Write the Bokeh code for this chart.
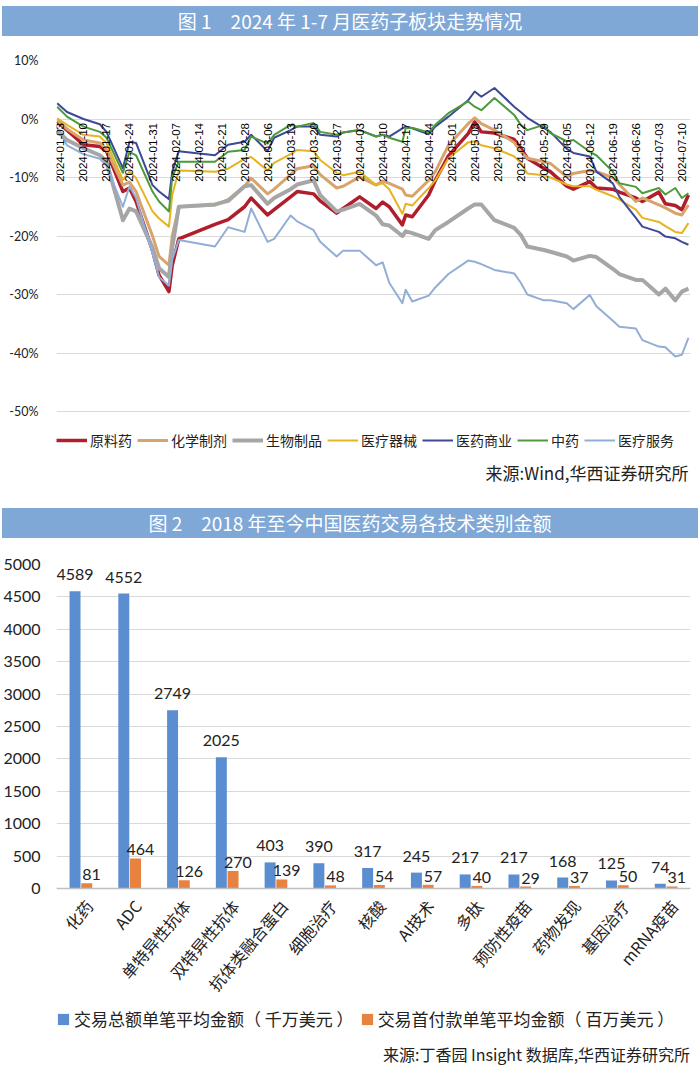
import pandas as pd
from bokeh.plotting import figure
from bokeh.models import (ColumnDataSource, Legend, LegendItem, Label, Div, FixedTicker,
                          Range1d, FactorRange, Span, PrintfTickFormatter)
from bokeh.layouts import column
from bokeh.transform import dodge
from bokeh.core.properties import value
from bokeh.embed import file_html
from bokeh.resources import INLINE

# ---------------- data: figure 1 (cumulative change, %) ----------------
dates = ["2024-01-02", "2024-01-05", "2024-01-10", "2024-01-15", "2024-01-17", "2024-01-22", "2024-01-24", "2024-01-26", "2024-01-31",
         "2024-02-02", "2024-02-05", "2024-02-06", "2024-02-08", "2024-02-19", "2024-02-23", "2024-02-28",
         "2024-03-01", "2024-03-06", "2024-03-08", "2024-03-13", "2024-03-15", "2024-03-20", "2024-03-22", "2024-03-27", "2024-03-29",
         "2024-04-03", "2024-04-08", "2024-04-10", "2024-04-12", "2024-04-16", "2024-04-17", "2024-04-19", "2024-04-24", "2024-04-26", "2024-04-30",
         "2024-05-06", "2024-05-08", "2024-05-10", "2024-05-14", "2024-05-20", "2024-05-22", "2024-05-24", "2024-05-29", "2024-05-31",
         "2024-06-05", "2024-06-07", "2024-06-12", "2024-06-14", "2024-06-19", "2024-06-21", "2024-06-26", "2024-06-28",
         "2024-07-03", "2024-07-05", "2024-07-08", "2024-07-10", "2024-07-12"]

raw_material = [-0.4, -1.9, -4.4, -4.7, -5.5, -12.4, -11.8, -14.1, -22.5,
                -26.7, -29.5, -25.0, -20.5, -18.0, -17.2, -15.0,
                -13.5, -16.4, -15.5, -13.3, -12.4, -12.8, -14.0, -16.1, -15.3,
                -13.3, -15.3, -14.2, -15.0, -18.1, -16.4, -16.7, -13.0, -10.5, -6.3,
                -2.5, -0.5, -2.2, -2.4, -3.5, -5.0, -6.7, -8.4, -9.0,
                -11.5, -12.0, -10.7, -11.8, -12.0, -12.5, -13.5, -14.1,
                -12.5, -14.5, -14.8, -15.5, -13.0]
chem_prep = [-0.2, -1.7, -3.6, -4.1, -5.2, -11.3, -10.8, -12.4, -20.0,
             -23.5, -25.0, -20.0, -15.0, -14.7, -13.8, -11.5,
             -10.1, -12.8, -12.0, -9.5, -8.5, -8.0, -9.5, -11.8, -11.5,
             -9.9, -11.3, -10.6, -11.0, -12.0, -13.0, -13.2, -10.5, -9.0, -4.5,
             -0.8, 0.2, -0.8, -1.9, -4.0, -5.6, -6.7, -7.3, -7.6,
             -9.9, -9.3, -8.8, -9.0, -10.0, -11.2, -14.1, -13.5,
             -14.7, -15.2, -16.1, -16.4, -14.7]
bio_products = [-1.9, -3.6, -5.0, -6.2, -7.3, -17.3, -15.3, -15.8, -22.0,
                -25.5, -27.0, -22.0, -15.0, -14.6, -14.0, -11.5,
                -11.3, -14.5, -13.5, -12.0, -11.2, -10.5, -13.0, -15.8, -15.5,
                -14.5, -16.5, -18.0, -18.2, -20.0, -19.2, -19.5, -20.5, -19.0, -17.6,
                -15.3, -14.6, -14.6, -17.3, -18.6, -19.8, -21.8, -22.4, -22.7,
                -23.5, -24.2, -23.4, -23.6, -25.6, -26.5, -27.5, -27.5,
                -30.0, -29.0, -31.0, -29.5, -29.0]
med_devices = [0.1, -1.0, -2.7, -3.0, -4.1, -10.4, -9.0, -10.1, -15.8,
               -17.0, -18.4, -13.0, -8.8, -9.0, -8.5, -6.8,
               -6.5, -8.8, -7.5, -6.0, -5.3, -5.5, -7.0, -9.2, -9.6,
               -9.0, -11.3, -11.0, -12.0, -16.2, -14.5, -14.8, -11.8, -10.5, -6.7,
               -4.0, -3.8, -4.5, -5.0, -6.4, -7.5, -9.3, -9.6, -10.0,
               -11.2, -11.5, -11.5, -12.1, -13.2, -13.8, -15.5, -16.9,
               -17.6, -18.3, -19.3, -19.5, -17.8]
pharma_commerce = [2.7, 1.2, 0.0, -0.9, -2.2, -8.4, -3.9, -4.1, -11.3,
                   -12.4, -13.7, -9.0, -5.5, -6.2, -4.4, -3.9,
                   -2.7, -5.5, -3.2, -1.9, -1.3, -1.3, -2.7, -3.0, -2.3,
                   -1.9, -3.0, -2.7, -3.0, -1.6, -1.3, -1.6, -2.6, -1.3, 0.4,
                   3.2, 4.7, 3.8, 5.3, 2.1, 1.2, 0.2, -1.5, -2.2,
                   -5.1, -5.8, -6.4, -9.0, -11.0, -13.3, -16.9, -18.4,
                   -19.3, -20.1, -20.4, -21.0, -21.5]
tcm = [2.1, 0.4, -1.3, -2.2, -3.2, -9.2, -5.6, -6.2, -12.4,
       -14.1, -15.8, -10.0, -7.3, -7.3, -5.6, -5.3,
       -3.0, -4.2, -2.7, -1.0, -1.3, -0.7, -2.2, -2.7, -2.3,
       -1.9, -3.0, -2.7, -3.2, -3.9, -1.6, -1.5, -2.3, -1.0, 1.0,
       3.0, 2.1, 1.5, 3.6, 0.7, -1.0, -1.9, -1.0, -2.4,
       -3.8, -3.6, -5.6, -6.2, -9.0, -11.0, -11.6, -12.7,
       -11.8, -12.9, -11.8, -13.5, -12.7]
med_services = [-1.5, -4.5, -6.0, -6.8, -8.0, -15.0, -11.5, -13.5, -23.0,
                -27.0, -28.5, -24.0, -20.7, -21.8, -18.5, -19.3,
                -15.3, -21.0, -20.5, -16.5, -17.5, -19.0, -21.0, -23.5, -22.5,
                -22.5, -25.0, -24.5, -28.0, -31.5, -29.2, -31.2, -30.2, -28.8, -26.5,
                -24.2, -24.4, -24.8, -25.8, -26.4, -28.0, -30.0, -31.0, -31.0,
                -31.5, -32.5, -30.1, -32.0, -34.5, -35.5, -35.8, -37.8,
                -38.9, -39.0, -40.6, -40.3, -37.4]

series_names = ["原料药", "化学制剂", "生物制品", "医疗器械", "医药商业", "中药", "医疗服务"]
series_values = [raw_material, chem_prep, bio_products, med_devices, pharma_commerce, tcm, med_services]

date_tick_labels = ["2024-01-03", "2024-01-10", "2024-01-17", "2024-01-24", "2024-01-31", "2024-02-07", "2024-02-14",
                    "2024-02-21", "2024-02-28", "2024-03-06", "2024-03-13", "2024-03-20", "2024-03-27", "2024-04-03",
                    "2024-04-10", "2024-04-17", "2024-04-24", "2024-05-01", "2024-05-08", "2024-05-15", "2024-05-22",
                    "2024-05-29", "2024-06-05", "2024-06-12", "2024-06-19", "2024-06-26", "2024-07-03", "2024-07-10"]
pct_ticks = [-50, -40, -30, -20, -10, 0, 10]

# ---------------- data: figure 2 ----------------
categories = ["化药", "ADC", "单特异性抗体", "双特异性抗体", "抗体类融合蛋白", "细胞治疗", "核酸",
              "AI技术", "多肽", "预防性疫苗", "药物发现", "基因治疗", "mRNA疫苗"]
deal_total = [4589, 4552, 2749, 2025, 403, 390, 317, 245, 217, 217, 168, 125, 74]
deal_upfront = [81, 464, 126, 270, 139, 48, 54, 57, 40, 29, 37, 50, 31]
amount_ticks = [0, 500, 1000, 1500, 2000, 2500, 3000, 3500, 4000, 4500, 5000]

# ---------------- styling ----------------
W = 700
CJK = "Noto Sans CJK SC"
NUM = "Lato"
BANNER = "#7FA8D7"
line_colors = ["#B01E2C", "#D8A46C", "#A6A6A6", "#E6B323", "#3D4996", "#4C9A3C", "#92AED6"]
line_widths = [3.5, 3, 4, 2, 2, 2, 2]
BLUE = "#5B8DD1"
ORANGE = "#E8823E"
GRID = "#D9D9D9"


def banner(text, h, top, bh):
    html = (f'<div style="margin:{top}px 2px 0 2px;height:{bh}px;line-height:{bh}px;background:{BANNER};'
            f'color:#ffffff;font-family:\'{CJK}\';font-size:19px;text-align:center;width:{W - 4}px;">{text}</div>')
    return Div(text=html, width=W, height=h, styles={"margin": "0", "padding": "0"})


# ================= figure 1 =================
PX_PER_PCT = 5.85
F1_TOP, F1_BOTTOM = 60, 490          # frame extent (page px)
y_hi = 10.0
y_lo = y_hi - (F1_BOTTOM - F1_TOP) / PX_PER_PCT


def pct_at(page_y):
    return y_hi - (page_y - F1_TOP) / PX_PER_PCT


x_lo = pd.Timestamp("2024-01-01 19:15")
x_hi = pd.Timestamp("2024-07-12 15:00")

p1 = figure(width=W, height=458, x_axis_type="datetime", x_axis_location=None,
            x_range=Range1d(x_lo, x_hi), y_range=Range1d(y_lo, y_hi),
            output_backend="svg", toolbar_location=None,
            min_border_left=48, min_border_right=8, min_border_top=18, min_border_bottom=10)
p1.outline_line_color = None
p1.background_fill_color = "white"
p1.yaxis.ticker = FixedTicker(ticks=pct_ticks)
p1.yaxis.formatter = PrintfTickFormatter(format="%d%%")
p1.yaxis.axis_line_color = None
p1.yaxis.major_tick_line_color = None
p1.yaxis.minor_tick_line_color = None
p1.yaxis.major_label_text_font = NUM
p1.yaxis.major_label_text_font_size = "12.5px"
p1.yaxis.major_label_text_color = "#222222"
p1.yaxis.major_label_standoff = 12
p1.ygrid.grid_line_color = GRID
p1.ygrid.grid_line_width = 1.2
for g in p1.xgrid:
    g.visible = False

src1 = ColumnDataSource(dict(date=pd.to_datetime(dates), **{f"s{i}": v for i, v in enumerate(series_values)}))
renderers = []
for i, name in enumerate(series_names):
    r = p1.line(x="date", y=f"s{i}", source=src1, line_color=line_colors[i],
                line_width=line_widths[i], line_join="round")
    renderers.append(r)

tick_src = ColumnDataSource(dict(x=pd.to_datetime(date_tick_labels), y=[0] * len(date_tick_labels),
                                 t=date_tick_labels))
p1.text(x="x", y="y", text="t", source=tick_src, angle=1.5708, text_align="right",
        text_baseline="middle", y_offset=4, text_font=value("Liberation Sans"),
        text_font_size="11.5px", text_color="#000000")

leg1 = Legend(items=[LegendItem(label=n, renderers=[r]) for n, r in zip(series_names, renderers)],
              orientation="horizontal", location=(0, 40),
              label_text_font=CJK, label_text_font_size="14px", label_text_color="#222222",
              glyph_width=31, glyph_height=16, label_height=20, label_standoff=3, spacing=5,
              padding=0, margin=0, border_line_color=None, background_fill_alpha=0)
p1.add_layout(leg1, "center")
p1.add_layout(Label(x=pd.Timestamp("2024-07-12"), y=pct_at(472), text="来源:Wind,华西证券研究所",
                    text_align="right", text_baseline="middle", text_font=CJK,
                    text_font_size="17px", text_color="#222222"))

# ================= figure 2 =================
F2_TOP, F2_ZERO, F2_BOTTOM = 564, 888, 1069
px_per_unit = (F2_ZERO - F2_TOP) / 5000.0
y2_lo = -(F2_BOTTOM - F2_ZERO) / px_per_unit


def amt_at(page_y):
    return (F2_ZERO - page_y) / px_per_unit


p2 = figure(width=W, height=524, x_range=FactorRange(*categories), y_range=Range1d(y2_lo, 5000),
            x_axis_location=None, output_backend="svg", toolbar_location=None,
            min_border_left=52, min_border_right=10, min_border_top=19, min_border_bottom=0)
p2.outline_line_color = None
p2.yaxis.ticker = FixedTicker(ticks=amount_ticks)
p2.yaxis.axis_line_color = None
p2.yaxis.major_tick_line_color = None
p2.yaxis.minor_tick_line_color = None
p2.yaxis.major_label_text_font = NUM
p2.yaxis.major_label_text_font_size = "16px"
p2.yaxis.major_label_text_color = "#222222"
p2.yaxis.major_label_standoff = 10
p2.ygrid.grid_line_color = GRID
p2.ygrid.grid_line_width = 1.2
for g in p2.xgrid:
    g.visible = False

src2 = ColumnDataSource(dict(cat=categories, total=deal_total, upfront=deal_upfront,
                             total_lbl=[str(v) for v in deal_total],
                             upfront_lbl=[str(v) for v in deal_upfront],
                             zero=[0] * len(categories)))
rb = p2.vbar(x=dodge("cat", -0.12, range=p2.x_range), top="total", width=0.225, source=src2,
             fill_color=BLUE, line_color=None)
ro = p2.vbar(x=dodge("cat", 0.12, range=p2.x_range), top="upfront", width=0.225, source=src2,
             fill_color=ORANGE, line_color=None)
p2.add_layout(Span(location=0, dimension="width", line_color="#BFBFBF", line_width=1.5))

p2.text(x=dodge("cat", -0.12, range=p2.x_range), y="total", text="total_lbl", source=src2,
        text_align="center", text_baseline="bottom", y_offset=-11,
        text_font=value(NUM), text_font_size="16px", text_color="#222222")
p2.text(x=dodge("cat", 0.22, range=p2.x_range), y="upfront", text="upfront_lbl", source=src2,
        text_align="center", text_baseline="bottom", y_offset=-3,
        text_font=value(NUM), text_font_size="16px", text_color="#222222")

p2.text(x="cat", y="zero", text="cat", source=src2, angle=0.87, text_align="right",
        text_baseline="middle", x_offset=8, y_offset=14, text_font=value(CJK),
        text_font_size="16px", text_color="#222222")

leg2 = Legend(items=[LegendItem(label="交易总额单笔平均金额（ 千万美元 ）", renderers=[rb]),
                     LegendItem(label="交易首付款单笔平均金额（ 百万美元 ）", renderers=[ro])],
              orientation="horizontal", location=(0, 38),
              label_text_font=CJK, label_text_font_size="17px", label_text_color="#222222",
              glyph_width=14, glyph_height=14, label_height=20, label_standoff=4, spacing=6,
              padding=0, margin=0, border_line_color=None, background_fill_alpha=0)
p2.add_layout(leg2, "center")

source2 = ColumnDataSource(dict(x=[categories[-1]], y=[amt_at(1053)],
                                t=["来源:丁香园 Insight 数据库,华西证券研究所"]))
p2.text(x="x", y="y", text="t", source=source2, x_offset=24, text_align="right",
        text_baseline="middle", text_font=value(CJK), text_font_size="16px", text_color="#222222")

layout = column(banner("图 1　2024 年 1-7 月医药子板块走势情况", 42, 6, 30), p1,
                banner("图 2　2018 年至今中国医药交易各技术类别金额", 45, 8, 30), p2)

open("out.html", "w").write(file_html(layout, INLINE))
